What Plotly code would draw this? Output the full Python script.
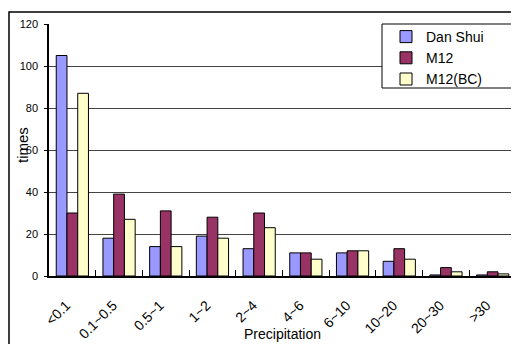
import plotly.graph_objects as go

categories = ["<0.1", "0.1~0.5", "0.5~1", "1~2", "2~4", "4~6", "6~10", "10~20", "20~30", ">30"]
dan_shui = [105, 18, 14, 19, 13, 11, 11, 7, 0.5, 0.5]
m12 = [30, 39, 31, 28, 30, 11, 12, 13, 4, 2]
m12_bc = [87, 27, 14, 18, 23, 8, 12, 8, 2, 1]

FONT = "Liberation Sans, Arial, sans-serif"

fig = go.Figure()
for name, vals, col in [("Dan Shui", dan_shui, "#9999FF"),
                        ("M12", m12, "#993366"),
                        ("M12(BC)", m12_bc, "#FFFFCC")]:
    fig.add_trace(go.Bar(x=categories, y=vals, name=name,
                         marker=dict(color=col, line=dict(color="black", width=1))))

OFF = 8  # page body margin offset
W, H = 519 - OFF, 344 - OFF
# reference plot area: x 49..516, y 24..276
L, R, T, B = 49 - OFF, 519 - 516, 24 - OFF, 344 - 276
pw, ph = W - L - R, H - T - B

def px(x):
    return (x - OFF - L) / pw

def py(y):
    return (H - B - (y - OFF)) / ph

fig.update_layout(
    width=W, height=H,
    margin=dict(l=L, r=R, t=T, b=B, pad=0, autoexpand=False),
    paper_bgcolor="white", plot_bgcolor="white",
    barmode="group", bargap=0.31, bargroupgap=0,
    font=dict(family=FONT, color="black", size=12),
    showlegend=True,
    legend=dict(x=px(386), y=py(21), xanchor="left", yanchor="top",
                bgcolor="rgba(0,0,0,0)", borderwidth=0,
                font=dict(size=14, family=FONT), tracegroupgap=0),
    xaxis=dict(showline=True, linecolor="black", linewidth=1.5, automargin=False,
               ticks="inside", tickson="boundaries", ticklen=6, tickcolor="black",
               tickangle=-45, tickfont=dict(size=14), ticklabelstandoff=14,
               ticklabelshift=-6,
               showgrid=False),
    yaxis=dict(range=[0, 120], dtick=20, showline=True, linecolor="black", linewidth=1.5,
               automargin=False,
               ticks="outside", ticklen=3, tickcolor="black", tickfont=dict(size=11),
               ticklabelstandoff=4,
               showgrid=True, gridcolor="#444444", gridwidth=1,
               zeroline=False),
    annotations=[
        dict(text="Precipitation", xref="paper", yref="paper", x=px(282), y=py(334),
             xanchor="center", yanchor="middle", showarrow=False, font=dict(size=14)),
        dict(text="times", xref="paper", yref="paper", x=px(22), y=py(145),
             xanchor="center", yanchor="middle", showarrow=False, textangle=-90,
             font=dict(size=15)),
    ],
    shapes=[
        dict(type="rect", xref="paper", yref="paper",
             x0=px(9), y0=py(400), x1=px(560), y1=py(12),
             line=dict(color="black", width=1.5), fillcolor="rgba(0,0,0,0)", layer="below"),
        dict(type="line", xref="paper", yref="paper",
             x0=1, x1=1, y0=0, y1=1, line=dict(color="#888888", width=1)),
        dict(type="rect", xref="paper", yref="paper",
             x0=px(382), y0=py(88), x1=px(514), y1=py(24),
             line=dict(color="black", width=1), fillcolor="white", layer="above"),
    ],
)

fig.write_html("out.html")
